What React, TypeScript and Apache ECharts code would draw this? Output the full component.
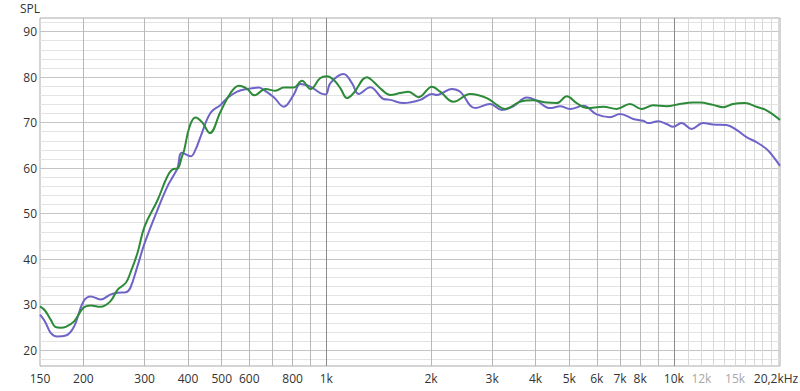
import React, { useEffect, useRef } from "react";
import * as echarts from "echarts";

const freqA = [150,155,161,166,172,178,188,200,210,224,239,251,265,273,286,300,327,349,363,373,384,390,404,420,440,462,496,530,560,592,621,668,714,754,805,851,900,961,1005,1049,1097,1147,1198,1309,1367,1446,1527,1632,1724,1842,2013,2126,2322,2594,2896,3094,3268,3610,3941,4307,4603,4918,5253,5612,6264,6844,7475,8076,8720,9528,10404,11363,11875,12969,13859,14806,15996,17284,18468,20200];
const splA = [29.6,28.7,26.7,25.1,24.9,25.1,26.3,29.3,29.8,29.5,30.7,33.3,34.8,37,41.3,47.2,53,58.2,59.8,59.9,62.5,64.0,69.1,71.1,70.0,67.7,72.4,76.5,78.1,77.4,76.0,77.4,77.0,77.7,77.7,79.2,77.4,79.8,80.2,79.4,77.6,75.4,76.5,80.0,79.0,77.2,76.1,76.5,76.8,75.6,77.9,76.8,74.6,76.3,75.4,73.9,73.0,74.6,74.9,74.4,74.3,75.8,74.3,73.2,73.5,73.0,74.1,73.0,73.8,73.6,74.1,74.4,74.4,73.9,73.4,74.1,74.3,73.5,72.7,70.6];

const freqB = [150,155,161,168,178,188,200,210,224,239,251,265,273,286,300,327,349,363,373,384,407,420,435,464,496,519,554,592,639,660,706,754,805,842,900,961,996,1027,1121,1185,1238,1338,1461,1527,1668,1863,2013,2080,2298,2427,2681,2960,3198,3453,3774,4031,4403,4705,5025,5488,5998,6548,6996,7638,8162,8436,9015,9528,9954,10522,11243,12139,12969,14172,15144,16178,17284,18468,19289,20200];
const splB = [27.8,26.3,23.8,23.0,23.2,25.2,30.7,31.8,31.1,32.2,32.6,32.7,33.7,38.4,43.5,50.9,56,58.3,60.0,63.4,62.6,64.0,67,72.1,73.9,75.4,76.8,77.4,77.7,77.2,75.6,73.5,76.1,78.5,77.9,76.5,76.2,78.7,80.7,78.7,76.3,77.8,75.2,75.0,74.3,75.0,76.3,76.1,77.4,76.8,73.2,74.1,72.8,73.6,75.5,74.8,73.2,73.6,73.0,73.7,71.8,71.2,71.9,70.8,70.4,69.9,70.3,69.7,69.1,69.9,68.6,69.9,69.6,69.5,68.4,66.8,65.7,64.2,62.6,60.5];

const gridFreqMain = [200,300,400,500,600,700,800,900,2000,3000,4000,5000,6000,7000,8000,9000];
const gridFreqDark = [1000,10000];
const gridFreqHigh = [11000,12000,13000,14000,15000,16000,17000,18000,19000,20000];
const gridSplMajor = [20,30,40,50,60,70,80,90];
const gridSplMinor = [18,22,24,26,28,32,34,36,38,42,44,46,48,52,54,56,58,62,64,66,68,72,74,76,78,82,84,86,88,92];

const xTickValues = [150,200,300,400,500,600,800,1000,2000,3000,4000,5000,6000,7000,8000,10000,12000,15000,20200];
const xTickLabels = ["150","200","300","400","500","600","800","1k","2k","3k","4k","5k","6k","7k","8k","10k","12k","15k","20,2kHz"];
const xTickMuted = ["12k","15k"];
const yTickValues = [20,30,40,50,60,70,80,90];

const FONT = "'Open Sans', 'Noto Sans', sans-serif";
const CLEAR = "rgba(0,0,0,0)";

export default function App() {
  const ref = useRef<HTMLDivElement>(null);
  useEffect(() => {
    if (!ref.current) return;
    const chart = echarts.init(ref.current, undefined, { renderer: "svg" });
    const vLine = (f: number, color: string) => ({
      xAxis: f,
      lineStyle: { color, width: 1, type: "solid" },
      label: { show: false },
    });
    const hLine = (v: number, color: string) => ({
      yAxis: v,
      lineStyle: { color, width: 1, type: "solid" },
      label: { show: false },
    });
    const gridData: any[] = [
      ...gridSplMinor.map((v) => hLine(v, "#e3e3e3")),
      ...gridSplMajor.map((v) => hLine(v, "#c4c4c4")),
      ...gridFreqHigh.map((f) => vLine(f, "#d9d9d9")),
      ...gridFreqMain.map((f) => vLine(f, "#b8b8b8")),
      ...gridFreqDark.map((f) => vLine(f, "#8a8a8a")),
    ];
    const labelData: any[] = [
      ...xTickValues.map((f, i) => ({
        xAxis: f,
        lineStyle: { color: CLEAR, width: 0 },
        label: {
          show: true,
          position: "start",
          distance: 6,
          formatter: xTickLabels[i],
          color: xTickMuted.includes(xTickLabels[i]) ? "#a8a8a8" : "#333",
          fontSize: 12,
          fontFamily: FONT,
          offset: i === xTickValues.length - 1 ? [-4, 0] : [0, 0],
        },
      })),
      ...yTickValues.map((v) => ({
        yAxis: v,
        lineStyle: { color: CLEAR, width: 0 },
        label: {
          show: true,
          position: "start",
          distance: 3,
          formatter: String(v),
          color: "#333",
          fontSize: 12,
          fontFamily: FONT,
        },
      })),
    ];
    chart.setOption({
      animation: false,
      grid: {
        left: 40,
        right: 20,
        top: 18,
        bottom: 25,
        show: true,
        borderColor: "#aaaaaa",
        borderWidth: 1,
        backgroundColor: "#fff",
      },
      graphic: [
        {
          type: "text",
          left: 20,
          top: 2,
          style: { text: "SPL", fill: "#333", font: `12px ${FONT}` },
        },
      ],
      xAxis: {
        type: "log",
        logBase: 10,
        min: 150,
        max: 20200,
        axisLine: { show: false },
        axisTick: { show: false },
        axisLabel: { show: false },
        splitLine: { show: false },
        minorSplitLine: { show: false },
      },
      yAxis: {
        type: "value",
        min: 16.5,
        max: 93,
        axisLine: { show: false },
        axisTick: { show: false },
        axisLabel: { show: false },
        splitLine: { show: false },
      },
      series: [
        {
          type: "line",
          data: [],
          z: 1,
          silent: true,
          clip: false,
          markLine: {
            silent: true,
            z: 1,
            symbol: ["none", "none"],
            animation: false,
            data: gridData,
          },
        },
        {
          type: "line",
          data: [],
          z: 1,
          silent: true,
          clip: false,
          markLine: {
            silent: true,
            z: 1,
            symbol: ["none", "none"],
            animation: false,
            data: labelData,
          },
        },
        {
          type: "line",
          name: "B",
          data: freqB.map((f, i) => [f, splB[i]]),
          showSymbol: false,
          smooth: 0.4,
          z: 3,
          lineStyle: { color: "#6e64c8", width: 2 },
          itemStyle: { color: "#6e64c8" },
        },
        {
          type: "line",
          name: "A",
          data: freqA.map((f, i) => [f, splA[i]]),
          showSymbol: false,
          smooth: 0.4,
          z: 4,
          lineStyle: { color: "#2c8a38", width: 2 },
          itemStyle: { color: "#2c8a38" },
        },
      ],
    });
    return () => chart.dispose();
  }, []);
  return (
    <div
      ref={ref}
      style={{ position: "fixed", left: 0, top: 0, width: 800, height: 391, background: "#fff" }}
    />
  );
}
